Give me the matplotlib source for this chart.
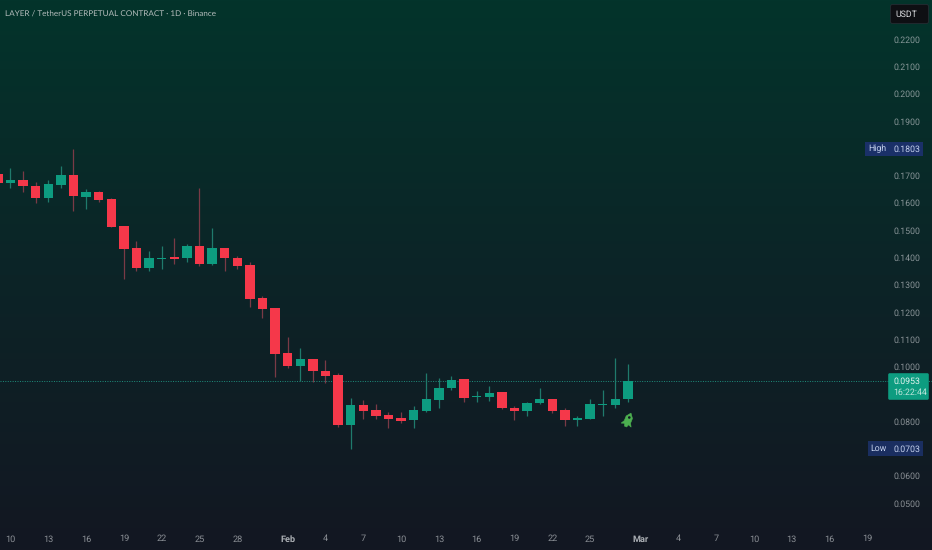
import numpy as np
import pandas as pd
import matplotlib
matplotlib.use("Agg")
import matplotlib.pyplot as plt
import matplotlib.dates as mdates
from matplotlib.patches import FancyBboxPatch, Rectangle, PathPatch, Circle
from matplotlib.path import Path
from matplotlib.transforms import blended_transform_factory, Affine2D

plt.rcParams['font.family'] = ['Roboto', 'DejaVu Sans']
plt.rcParams['text.hinting'] = 'no_hinting'

dates = pd.date_range("2025-01-09", "2025-02-28")

opens = [0.1710, 0.1677, 0.1689, 0.1666, 0.1622, 0.1671, 0.1707, 0.1624, 0.1644, 0.1619,
         0.1519, 0.1438, 0.1364, 0.1398, 0.1405, 0.1401, 0.1446, 0.1381, 0.1438, 0.1403,
         0.1376, 0.1256, 0.1219, 0.1054, 0.1008, 0.1031, 0.0988, 0.0974, 0.0791, 0.0864,
         0.0846, 0.0828, 0.0816, 0.0807, 0.0842, 0.0882, 0.0925, 0.0958, 0.0891, 0.0894,
         0.0910, 0.0854, 0.0842, 0.0870, 0.0885, 0.0846, 0.0809, 0.0811, 0.0865, 0.0864,
         0.0886]
highs = [0.1730, 0.1733, 0.1720, 0.1679, 0.1688, 0.1739, 0.1803, 0.1655, 0.1646, 0.1621,
         0.1519, 0.1464, 0.1429, 0.1445, 0.1474, 0.1452, 0.1657, 0.1511, 0.1438, 0.1411,
         0.1386, 0.1263, 0.1219, 0.1112, 0.1071, 0.1031, 0.1029, 0.0980, 0.0888, 0.0882,
         0.0868, 0.0839, 0.0839, 0.0861, 0.0980, 0.0964, 0.0968, 0.0958, 0.0915, 0.0933,
         0.0910, 0.0858, 0.0874, 0.0925, 0.0885, 0.0852, 0.0825, 0.0885, 0.0919, 0.1034,
         0.1014]
lows = [0.1665, 0.1657, 0.1644, 0.1602, 0.1607, 0.1659, 0.1574, 0.1580, 0.1607, 0.1516,
        0.1326, 0.1355, 0.1355, 0.1361, 0.1380, 0.1389, 0.1374, 0.1376, 0.1355, 0.1361,
        0.1224, 0.1181, 0.0967, 0.0999, 0.0953, 0.0949, 0.0943, 0.0782, 0.0703, 0.0813,
        0.0811, 0.0781, 0.0798, 0.0781, 0.0839, 0.0853, 0.0919, 0.0876, 0.0875, 0.0879,
        0.0848, 0.0809, 0.0822, 0.0868, 0.0833, 0.0787, 0.0788, 0.0811, 0.0824, 0.0853,
        0.0874]
closes = [0.1676, 0.1688, 0.1665, 0.1622, 0.1673, 0.1707, 0.1629, 0.1644, 0.1615, 0.1516,
          0.1434, 0.1364, 0.1401, 0.1403, 0.1400, 0.1446, 0.1381, 0.1438, 0.1401, 0.1373,
          0.1252, 0.1215, 0.1052, 0.1008, 0.1031, 0.0988, 0.0970, 0.0791, 0.0864, 0.0843,
          0.0824, 0.0811, 0.0805, 0.0846, 0.0885, 0.0927, 0.0955, 0.0888, 0.0897, 0.0909,
          0.0852, 0.0843, 0.0872, 0.0885, 0.0842, 0.0809, 0.0815, 0.0868, 0.0868, 0.0887,
          0.0953]

price_ticks = [0.22, 0.21, 0.20, 0.19, 0.17, 0.16, 0.15, 0.14, 0.13, 0.12, 0.11, 0.10, 0.08, 0.06, 0.05]
date_ticks = ["2025-01-10", "2025-01-13", "2025-01-16", "2025-01-19", "2025-01-22", "2025-01-25",
              "2025-01-28", "2025-02-01", "2025-02-04", "2025-02-07", "2025-02-10", "2025-02-13",
              "2025-02-16", "2025-02-19", "2025-02-22", "2025-02-25", "2025-03-01", "2025-03-04",
              "2025-03-07", "2025-03-10", "2025-03-13", "2025-03-16", "2025-03-19"]
date_labels = ["10", "13", "16", "19", "22", "25", "28", "Feb", "4", "7", "10", "13",
               "16", "19", "22", "25", "Mar", "4", "7", "10", "13", "16", "19"]

title = "LAYER / TetherUS PERPETUAL CONTRACT · 1D · Binance"
last_price = 0.0953
high_price = 0.1803
low_price = 0.0703

UP = "#0d9c80"
DOWN = "#f5384a"
UP_WICK = "#1f7a6c"
DOWN_WICK = "#7a3a46"

fig = plt.figure(figsize=(9.32, 5.5), dpi=100)

# gradient background, green at the top fading to the usual dark
bg = fig.add_axes([0, 0, 1, 1], zorder=0)
top = np.array(matplotlib.colors.to_rgb("#03342b"))
mid = np.array(matplotlib.colors.to_rgb("#0c2427"))
bot = np.array(matplotlib.colors.to_rgb("#131722"))
t = np.linspace(0, 1, 550)[:, None]
grad = np.where(t < 0.5, top + (mid - top) * t * 2, mid + (bot - mid) * (t - 0.5) * 2)
bg.imshow(grad[:, None, :], aspect="auto", extent=[0, 1, 0, 1])
bg.axis("off")

ax = fig.add_axes([0, 0, 1, 1], zorder=1)
ax.patch.set_alpha(0)
ax.axis("off")

x = mdates.date2num(dates)
jan10 = mdates.date2num(pd.Timestamp("2025-01-10"))
px_per_day = 12.6
ax.set_xlim(jan10 - 10.5 / px_per_day, jan10 + (932 - 10.5) / px_per_day)
ax.set_ylim(0.2347 - 550 / 2730, 0.2347)

o = np.array(opens)
c = np.array(closes)
colors = [UP if cc >= oo else DOWN for oo, cc in zip(o, c)]
wick_colors = [UP_WICK if cc >= oo else DOWN_WICK for oo, cc in zip(o, c)]
ax.vlines(x, lows, highs, colors=wick_colors, linewidth=0.9, zorder=2)
ax.bar(x, np.abs(c - o), bottom=np.minimum(o, c), width=0.76, color=colors, linewidth=0, zorder=3)

ax.axhline(last_price, color="#1f8f7c", linewidth=0.7, linestyle=(0, (1, 1.5)), zorder=1)

# overlay in pixels for the labels and tags
ov = fig.add_axes([0, 0, 1, 1], zorder=2)
ov.patch.set_alpha(0)
ov.axis("off")
ov.set_xlim(0, 932)
ov.set_ylim(550, 0)

ov.text(5, 14, title, color="#b4bcbc", fontsize=5.9, family=['Lato', 'DejaVu Sans'], va="center", ha="left")

price_tr = blended_transform_factory(ov.transData, ax.transData)
for p in price_ticks:
    ov.text(893, p, f"{p:.4f}", transform=price_tr, color="#c4c8cc", alpha=0.68,
            fontsize=6.3, va="center", ha="left")

date_tr = blended_transform_factory(ax.transData, ov.transData)
for d, lab in zip(date_ticks, date_labels):
    bold = lab in ("Feb", "Mar")
    ov.text(mdates.date2num(pd.Timestamp(d)), 539, lab, transform=date_tr, ha="center", va="center",
            color="#c4c8cc", alpha=0.85 if bold else 0.68, fontsize=6.6,
            fontweight="bold" if bold else "normal")

# USDT box
ov.add_patch(FancyBboxPatch((892, 6), 35, 16, boxstyle="round,pad=1.5,rounding_size=2",
                            fc="#0e0f13", ec="#2a2e35", lw=0.5, zorder=3))
ov.text(895, 14.5, "USDT", color="#d8dadd", fontsize=6.3, va="center", ha="left", zorder=4)

# high / low tags
ov.add_patch(Rectangle((865, 142), 58, 14, fc="#1a3068", ec="none", zorder=3))
ov.text(868, 148.5, "High", color="#c6d2ee", fontsize=6.3, va="center", ha="left", zorder=4)
ov.text(893, 149, f"{high_price:.4f}", color="#c6d2ee", fontsize=6.3, va="center", ha="left", zorder=4)

ov.add_patch(Rectangle((868, 441), 55, 15, fc="#1a2e60", ec="none", zorder=3))
ov.text(870.5, 448.5, "Low", color="#c6d2ee", fontsize=6.3, va="center", ha="left", zorder=4)
ov.text(893, 449, f"{low_price:.4f}", color="#c6d2ee", fontsize=6.3, va="center", ha="left", zorder=4)

# last price tag with countdown
ov.add_patch(FancyBboxPatch((889, 374), 39, 25, boxstyle="round,pad=0.8,rounding_size=1.5",
                            fc="#0d9c80", ec="none", zorder=3))
ov.text(893, 381, f"{last_price:.4f}", color="#e4f4f0", fontsize=6.3, va="center", ha="left", zorder=4)
ov.text(893, 392.5, "16:22:44", color="#bfe6dc", fontsize=6.3, va="center", ha="left", zorder=4)

# rocket icon, y runs down in this overlay so the nose is negative
rocket = Path([(0, -8), (3.4, -3.5), (3.4, 1.5), (5.4, 5), (2, 3.8), (1.2, 6.5), (-1.2, 6.5),
               (-2, 3.8), (-5.4, 5), (-3.4, 1.5), (-3.4, -3.5), (0, -8)], closed=True)
rocket_tr = Affine2D().rotate_deg(22).translate(628, 420.5)
ov.add_patch(PathPatch(rocket, transform=rocket_tr + ov.transData,
                       fc="#4caf50", ec="#4caf50", lw=0.4, zorder=4))
ov.add_patch(Circle((629.3, 417.5), 1.3, fc="#131722", ec="none", zorder=5))

fig.savefig("out.png", dpi=100)
